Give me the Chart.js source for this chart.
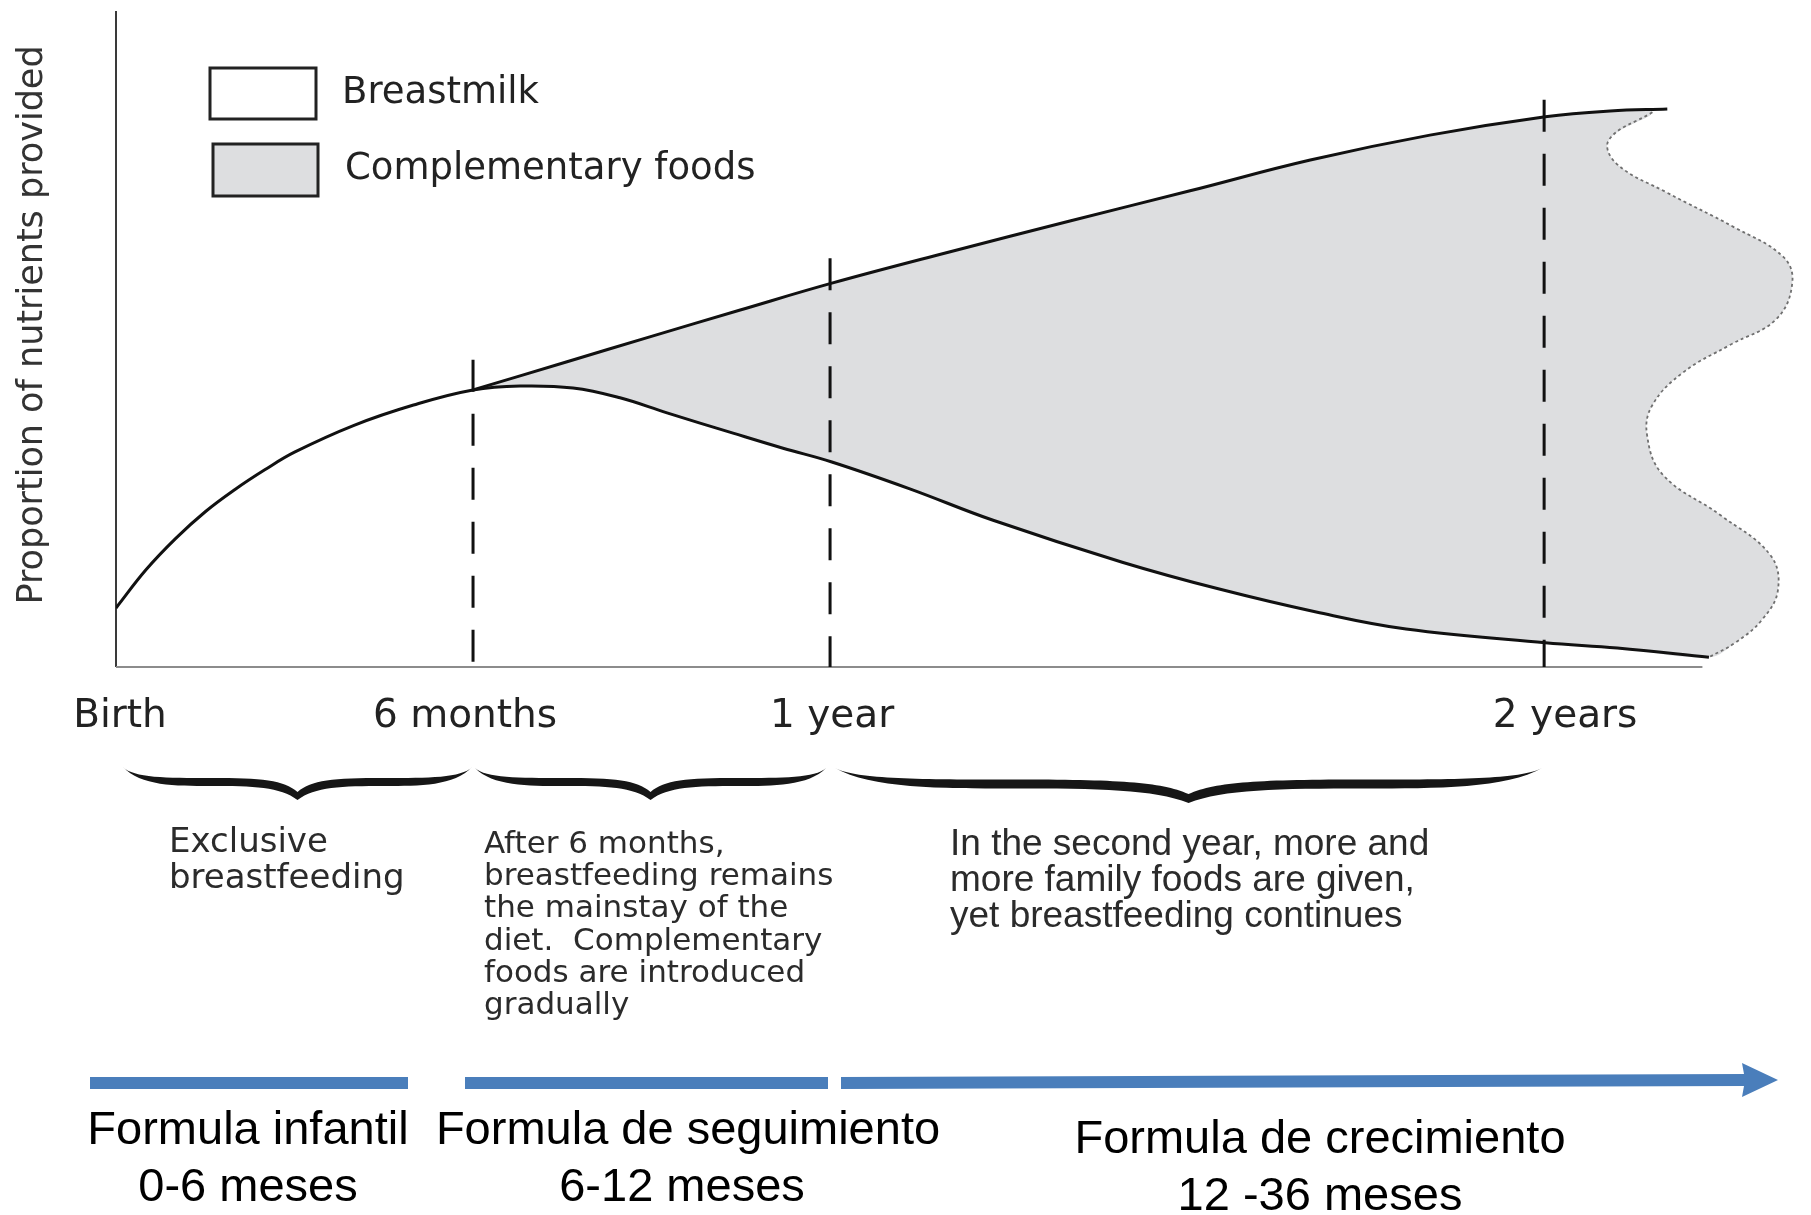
<!DOCTYPE html>
<html>
<head>
<meta charset="utf-8">
<script src="https://cdn.jsdelivr.net/npm/chart.js@4.4.1/dist/chart.umd.min.js"></script>
<style>
  html, body { margin: 0; padding: 0; background: #fff; }
  #wrap { width: 1811px; height: 1215px; position: relative; }
</style>
</head>
<body>
<div id="wrap"><canvas id="miCanvas"></canvas></div>
<script>
// x = months from birth, y = share of nutrients (0..100, no units on the original)
const tickMonths = [0, 6, 12, 24];
const tickLabels = ['Birth', '6 months', '1 year', '2 years'];

const breastmilkX = [0, 0.5, 1, 1.5, 2, 2.5, 3, 4, 5, 6, 6.79, 7.68, 8.47, 9.26, 10.37, 11.21, 12.03, 13.34, 14.74, 16.91, 18.54, 20.17, 21.68, 24.02, 25.23, 26.77];
const breastmilkY = [9.0, 14.8, 19.6, 23.7, 27.1, 30.1, 32.8, 36.9, 40.0, 42.3, 42.9, 42.6, 41.1, 38.8, 35.7, 33.4, 31.3, 27.2, 22.4, 16.0, 11.9, 8.4, 5.8, 3.7, 2.9, 1.5];

const totalX = [6, 7.58, 8.97, 10.49, 12.03, 14.02, 16.03, 18.05, 20.07, 22.08, 24.02, 25.11, 26.07];
const totalY = [42.3, 46.6, 50.4, 54.5, 58.6, 63.4, 68.1, 72.7, 77.4, 81.2, 84.0, 84.9, 85.2];

// wavy open edge of the complementary foods area (top to bottom)
const edgeX = [25.82, 25.09, 25.21, 26.07, 27.18, 28.02, 28.17, 27.90, 27.13, 26.34, 25.82, 25.73, 26.0, 26.96, 27.80, 27.93, 27.66, 27.21, 26.77];
const edgeY = [84.7, 80.5, 76.9, 72.4, 67.2, 62.6, 58.6, 53.1, 49.2, 45.0, 40.0, 35.4, 29.3, 23.2, 17.1, 11.8, 7.2, 3.7, 1.5];

const markerMonths = [6, 12, 24];
const markerTops = [46.9, 62.4, 86.6];
const axisEnd = 26.66;

const yTitle = 'Proportion of nutrients provided';
const stageNotes = [
    ['Exclusive', 'breastfeeding'],
    ['After 6 months,', 'breastfeeding remains', 'the mainstay of the', 'diet.  Complementary', 'foods are introduced', 'gradually'],
    ['In the second year, more and', 'more family foods are given,', 'yet breastfeeding continues']
];
const formulaNames = ['Formula infantil', 'Formula de seguimiento', 'Formula de crecimiento'];
const formulaAges = ['0-6 meses', '6-12 meses', '12 -36 meses'];

const GRAY = '#dddee0';
const BLUE = '#4a7ebb';

const pts = (xs, ys) => xs.map((x, i) => ({x: x, y: ys[i]}));
const lowerPts = pts(breastmilkX, breastmilkY);
const upperPts = pts(totalX, totalY);
const edgePts = pts(edgeX, edgeY);

// closed outline of the grey area
const upperPart = upperPts.filter(p => p.x < edgePts[0].x);
const lowerPart = lowerPts.filter(p => p.x >= 6 && p.x < edgePts[edgePts.length - 1].x).reverse();
const shapePts = upperPart.concat(edgePts).concat(lowerPart);

const dashSets = markerMonths.map((m, i) => ({
    label: 'marker' + i,
    data: [{x: m, y: markerTops[i]}, {x: m, y: 0}],
    borderColor: '#111',
    borderWidth: 3,
    borderDash: [32, 22],
    pointRadius: 0,
    tension: 0
}));

function brace(c, xa, xb, yEnd, yBody, yTip, h) {
    const xm = (xa + xb) / 2, L = xm - xa;
    c.beginPath();
    c.moveTo(xa, yEnd);
    c.bezierCurveTo(xa + 0.06 * L, yBody - h, xa + 0.25 * L, yBody - h, xa + 0.5 * L, yBody - h);
    c.bezierCurveTo(xa + 0.8 * L, yBody - h, xm - 0.08 * L, yBody - h * 0.5, xm, yTip - 2 * h);
    c.bezierCurveTo(xm + 0.08 * L, yBody - h * 0.5, xb - 0.8 * L, yBody - h, xb - 0.5 * L, yBody - h);
    c.bezierCurveTo(xb - 0.25 * L, yBody - h, xb - 0.06 * L, yBody - h, xb, yEnd);
    c.bezierCurveTo(xb - 0.1 * L, yBody + h, xb - 0.3 * L, yBody + h, xb - 0.5 * L, yBody + h);
    c.bezierCurveTo(xb - 0.75 * L, yBody + h, xm + 0.1 * L, yBody + h * 1.2, xm, yTip);
    c.bezierCurveTo(xm - 0.1 * L, yBody + h * 1.2, xa + 0.75 * L, yBody + h, xa + 0.5 * L, yBody + h);
    c.bezierCurveTo(xa + 0.3 * L, yBody + h, xa + 0.1 * L, yBody + h, xa, yEnd);
    c.closePath();
    c.fill();
}

const annotate = {
    id: 'annotate',
    afterDraw(chart) {
        const c = chart.ctx;
        const xs = chart.scales.x;
        const px = (m) => xs.getPixelForValue(m);
        c.save();

        // y axis title
        c.fillStyle = '#333';
        c.font = "35px 'DejaVu Sans'";
        c.textAlign = 'center';
        c.textBaseline = 'alphabetic';
        c.save();
        c.translate(42, 325);
        c.rotate(-Math.PI / 2);
        c.fillText(yTitle, 0, 0);
        c.restore();

        // legend
        const sets = chart.data.datasets;
        const legendItems = [sets[0], sets[sets.length - 1]];
        const boxes = [[210, 68, 106, 51], [213, 144, 105, 52]];
        c.lineWidth = 3;
        c.strokeStyle = '#222';
        c.textAlign = 'left';
        c.font = "37px 'DejaVu Sans'";
        legendItems.forEach((ds, i) => {
            const b = boxes[i];
            c.fillStyle = ds.backgroundColor || '#fff';
            c.fillRect(b[0], b[1], b[2], b[3]);
            c.strokeRect(b[0], b[1], b[2], b[3]);
            c.fillStyle = '#222';
            c.fillText(ds.label, b[0] + 132, b[1] + 35);
        });

        // x tick labels
        const nudge = [4, -8, 2, 21];
        c.font = "39px 'DejaVu Sans'";
        c.textAlign = 'center';
        c.fillStyle = '#222';
        tickMonths.forEach((m, i) => c.fillText(tickLabels[i], px(m) + nudge[i], 727));

        // braces under each stage
        c.fillStyle = '#161616';
        brace(c, px(0) + 7, px(6) - 1, 767, 782, 800, 4);
        brace(c, px(6) + 2, px(12) - 4, 768, 782, 800, 4);
        brace(c, px(12) + 5, px(24) - 2, 768, 784, 803, 4.5);

        // stage notes
        c.textAlign = 'left';
        c.fillStyle = '#2b2b2b';
        c.font = "34px 'DejaVu Sans'";
        stageNotes[0].forEach((t, i) => c.fillText(t, 169, 852 + i * 36));
        c.font = "31px 'DejaVu Sans'";
        stageNotes[1].forEach((t, i) => c.fillText(t, 484, 853 + i * 32.2));
        c.font = "37px 'Liberation Sans'";
        stageNotes[2].forEach((t, i) => c.fillText(t, 950, 855 + i * 36));

        // formula timeline
        c.fillStyle = BLUE;
        c.fillRect(90, 1077, 318, 12);
        c.fillRect(465, 1077, 363, 12);
        c.beginPath();
        c.moveTo(841, 1077);
        c.lineTo(1744, 1074);
        c.lineTo(1742, 1063);
        c.lineTo(1778, 1080);
        c.lineTo(1742, 1097);
        c.lineTo(1744, 1086);
        c.lineTo(841, 1089);
        c.closePath();
        c.fill();

        c.fillStyle = '#000';
        c.textAlign = 'center';
        c.font = "47px 'Liberation Sans'";
        const cx = [248, 688, 1320];
        const base = [1144, 1144, 1153];
        formulaNames.forEach((t, i) => {
            c.fillText(t, cx[i], base[i]);
            c.fillText(formulaAges[i], cx[i] - (i === 1 ? 6 : 0), base[i] + 57);
        });
        c.restore();
    }
};

new Chart(document.getElementById('miCanvas'), {
    type: 'line',
    data: {
        datasets: [
            {
                label: 'Breastmilk',
                data: lowerPts,
                borderColor: '#111',
                backgroundColor: '#ffffff',
                borderWidth: 3,
                pointRadius: 0,
                tension: 0.4
            },
            {
                label: 'Total',
                data: upperPts,
                borderColor: '#111',
                borderWidth: 3,
                pointRadius: 0,
                tension: 0.4
            },
            ...dashSets,
            {
                label: 'x axis',
                data: [{x: 0, y: 0}, {x: axisEnd, y: 0}],
                borderColor: '#8c8c8c',
                borderWidth: 2,
                pointRadius: 0,
                clip: false
            },
            {
                label: 'y axis',
                data: [{x: 0, y: 0}, {x: 0, y: 100.15}],
                borderColor: '#3a3a3a',
                borderWidth: 2,
                pointRadius: 0,
                clip: false
            },
            {
                label: 'edge',
                data: edgePts,
                borderColor: '#6f6f6f',
                borderWidth: 1.8,
                borderDash: [3, 3],
                pointRadius: 0,
                tension: 0.4,
                order: 5
            },
            {
                label: 'Complementary foods',
                data: shapePts,
                backgroundColor: GRAY,
                fill: 'shape',
                borderWidth: 0,
                borderColor: 'rgba(0,0,0,0)',
                pointRadius: 0,
                tension: 0.4,
                order: 10
            }
        ]
    },
    options: {
        responsive: true,
        maintainAspectRatio: false,
        animation: false,
        layout: { padding: { left: 116, top: 12, right: 11, bottom: 548 } },
        scales: {
            x: { type: 'linear', min: 0, max: 28.3, display: false },
            y: { min: 0, max: 100, display: false }
        },
        plugins: {
            legend: { display: false },
            tooltip: { enabled: false }
        }
    },
    plugins: [annotate]
});
</script>
</body>
</html>
